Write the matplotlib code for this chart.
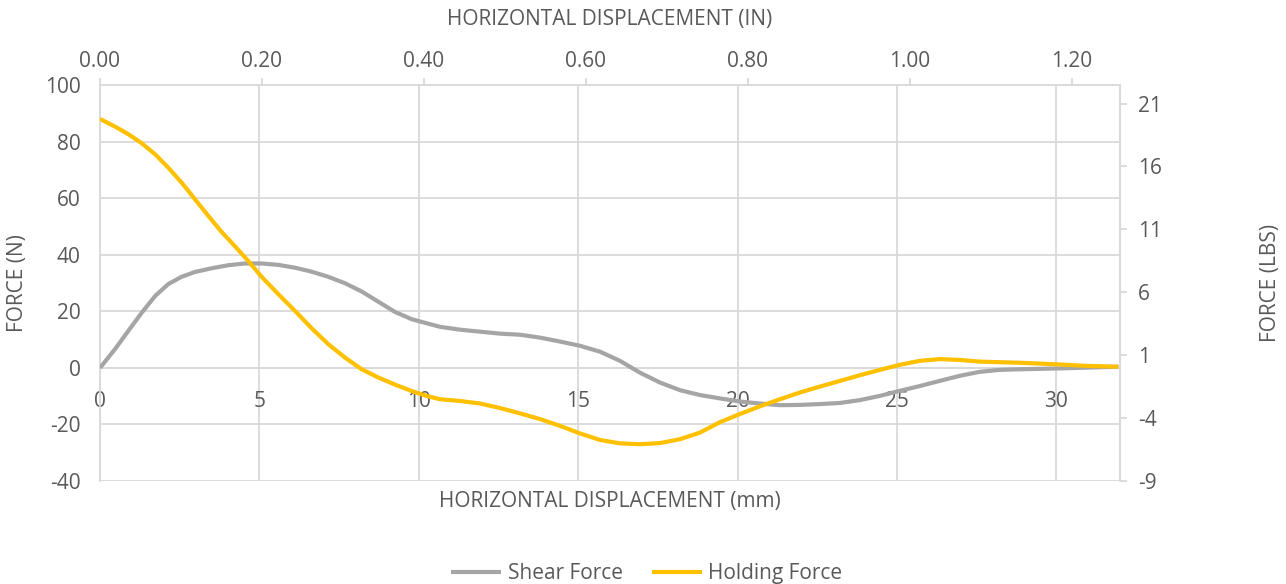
import numpy as np
import matplotlib.pyplot as plt
from matplotlib.ticker import FormatStrFormatter

# points: displacement (mm) and force (N)
shear_mm = [0, 0.47, 0.89, 1.31, 1.73, 2.14, 2.56, 2.98, 3.5, 4.03, 4.55,
            5.07, 5.6, 6.12, 6.64, 7.16, 7.69, 8.21, 8.73, 9.25, 9.78,
            10.04, 10.67, 11.29, 11.92, 12.55, 13.18, 13.8, 14.43, 15.06,
            15.69, 16.31, 16.94, 17.57, 18.2, 18.82, 19.45, 20.08, 20.7,
            21.33, 21.96, 22.59, 23.22, 23.84, 24.47, 25.1, 25.73, 26.35,
            26.98, 27.6, 28.24, 28.86, 30.1, 31.95]
shear_force = [0, 6.6, 13.1, 19.5, 25.4, 29.6, 32.2, 33.9, 35.2, 36.3, 36.9,
               36.9, 36.4, 35.4, 34, 32.2, 29.9, 27, 23.4, 19.8, 17.2,
               16.4, 14.5, 13.5, 12.8, 12.1, 11.7, 10.7, 9.3, 7.8,
               5.7, 2.5, -1.7, -5.2, -7.9, -9.6, -10.8, -11.9, -12.6,
               -13.2, -13.1, -12.8, -12.4, -11.4, -9.9, -8.1, -6.4, -4.6,
               -2.8, -1.4, -0.7, -0.5, -0.2, 0.4]

holding_mm = [0, 0.47, 0.89, 1.31, 1.73, 2.14, 2.56, 2.98, 3.4, 3.82, 4.24,
              4.65, 5.07, 5.6, 6.12, 6.64, 7.16, 7.69, 8.21, 8.73, 9.25,
              9.78, 10.3, 10.67, 11.29, 11.92, 12.55, 13.18, 13.8, 14.43,
              15.06, 15.69, 16.31, 16.94, 17.57, 18.2, 18.82, 19.45, 20.08,
              20.7, 21.33, 21.96, 22.59, 23.22, 23.84, 24.47, 25.1, 25.73,
              26.35, 26.98, 27.6, 28.24, 28.86, 29.5, 30.1, 30.96, 31.95]
holding_force = [88, 85.3, 82.6, 79.4, 75.5, 70.8, 65.5, 59.6, 53.7, 48, 42.9,
                 37.8, 32.2, 26, 20.1, 14, 8.4, 3.6, -0.5, -3.4, -5.9,
                 -8.2, -10.1, -11.1, -11.7, -12.6, -14.2, -16.1, -18.1, -20.5,
                 -23.2, -25.5, -26.7, -27, -26.6, -25.2, -22.9, -19.2, -16.3,
                 -13.6, -11.1, -8.7, -6.6, -4.6, -2.6, -0.7, 1.1, 2.5,
                 3.1, 2.8, 2.2, 2.0, 1.8, 1.5, 1.2, 0.7, 0.4]

n_ticks = [-40, -20, 0, 20, 40, 60, 80, 100]
lbs_ticks = [-9, -4, 1, 6, 11, 16, 21]
mm_ticks = [0, 5, 10, 15, 20, 25, 30]
in_ticks = [0.0, 0.2, 0.4, 0.6, 0.8, 1.0, 1.2]

N_TO_LBS = 0.224809
MM_PER_IN = 25.4

txt = '#595959'
grid = '#D9D9D9'
plt.rcParams['font.family'] = ['Open Sans', 'DejaVu Sans']
plt.rcParams['axes.unicode_minus'] = False
fs = 15

fig = plt.figure(figsize=(12.86, 5.84), dpi=100)
ax = fig.add_axes([100/1286, 1 - 481/584, 1020/1286, 396/584])

ax.plot(shear_mm, shear_force, color='#A5A5A5', lw=3, label='Shear Force',
        solid_joinstyle='round', solid_capstyle='butt', zorder=3)
ax.plot(holding_mm, holding_force, color='#FFC000', lw=3, label='Holding Force',
        solid_joinstyle='round', solid_capstyle='butt', zorder=4)

ax.set_xlim(0, 32)
ax.set_ylim(-40, 100)
ax.set_yticks(n_ticks)
ax.set_xticks(mm_ticks)
ax.grid(True, color=grid, lw=1.3)
ax.set_axisbelow(True)

for s in ax.spines.values():
    s.set_color(grid)
    s.set_linewidth(1.3)
ax.spines['top'].set_visible(False)
ax.spines['bottom'].set_position(('data', 0))
ax.tick_params(axis='both', length=0, labelcolor=txt, labelsize=fs)
ax.tick_params(axis='x', pad=17)
ax.tick_params(axis='y', pad=14)

ax.set_ylabel('FORCE (N)', color=txt, fontsize=fs)
ax.yaxis.set_label_coords(-0.071, 0.5)
ax.set_xlabel('HORIZONTAL DISPLACEMENT (mm)', color=txt, fontsize=fs)
ax.xaxis.set_label_coords(0.5, -0.025)

# top axis in inches
top = ax.secondary_xaxis('top', functions=(lambda x: x / MM_PER_IN,
                                           lambda x: x * MM_PER_IN))
top.set_xticks(in_ticks)
top.xaxis.set_major_formatter(FormatStrFormatter('%.2f'))
top.tick_params(length=5, color=grid, width=1.3, labelcolor=txt,
                labelsize=fs, pad=4)
top.spines['top'].set_color(grid)
top.spines['top'].set_linewidth(1.3)
top.set_xlabel('HORIZONTAL DISPLACEMENT (IN)', color=txt, fontsize=fs,
               labelpad=19)

# right axis in pounds
ax2 = ax.twinx()
ax2.set_ylim(-9, -9 + 140 * N_TO_LBS)
ax2.set_yticks(lbs_ticks)
ax2.tick_params(length=5, color=grid, width=1.3, labelcolor=txt,
                labelsize=fs, pad=8)
for s in ax2.spines.values():
    s.set_visible(False)
ax2.spines['right'].set_visible(True)
ax2.spines['right'].set_color(grid)
ax2.spines['right'].set_linewidth(1.3)
ax2.set_ylabel('FORCE (LBS)', color=txt, fontsize=fs)
ax2.yaxis.set_label_coords(1.137, 0.5)

fig.legend(*ax.get_legend_handles_labels(), loc='lower center', ncol=2,
           bbox_to_anchor=(0.503, -0.032), frameon=False, fontsize=fs,
           labelcolor=txt, handlelength=2.4, handletextpad=0.3,
           columnspacing=1.4)

fig.savefig('out.png', dpi=100)
